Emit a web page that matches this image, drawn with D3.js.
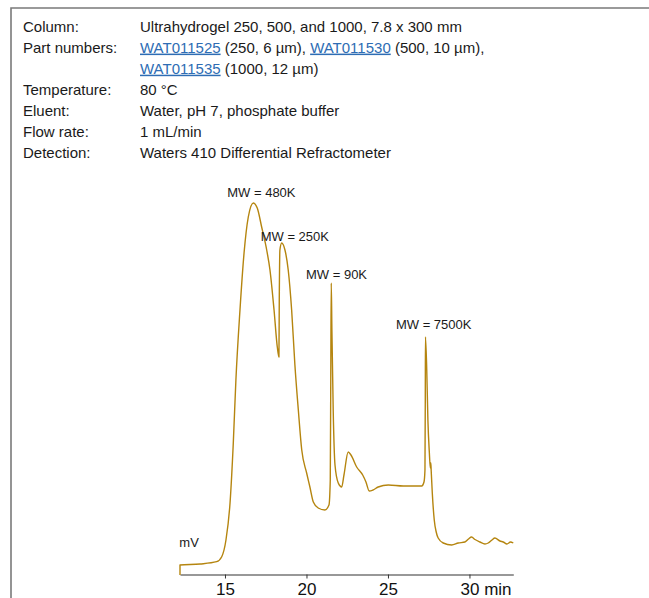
<!DOCTYPE html>
<html>
<head>
<meta charset="utf-8">
<script src="https://cdn.jsdelivr.net/npm/d3@7"></script>
<style>
  html, body { margin: 0; padding: 0; background: #fff; }
  svg { display: block; font-family: "Liberation Sans", Arial, sans-serif; }
</style>
</head>
<body>
<svg id="chart" width="649" height="598"></svg>
<script>
// ---- Data ----
// Retention time (min)
const times = [12.24, 12.24, 13.47, 14.49, 14.80, 15.06, 15.31, 15.51, 15.67, 15.92,
  16.17, 16.43, 16.74, 16.98, 17.25, 17.56, 17.76, 18.01, 18.21, 18.31,
  18.33, 18.37, 18.48, 18.68, 18.88, 19.09, 19.29, 19.50, 19.71, 20.01,
  20.21, 20.42, 20.72, 21.13, 21.38, 21.46, 21.49, 21.52, 21.56, 21.64,
  21.75, 21.95, 22.16, 22.30, 22.56, 22.73, 23.08, 23.45, 23.65, 23.85,
  24.08, 24.40, 25.02, 25.94, 27.07, 27.21, 27.27, 27.29, 27.30, 27.38,
  27.45, 27.54, 27.60, 27.63, 27.65, 27.72, 27.84, 27.96, 28.08, 28.39,
  28.91, 29.31, 29.72, 29.94, 30.13, 30.34, 30.64, 30.95, 31.15, 31.38,
  31.56, 31.87, 32.07, 32.30, 32.52, 32.69];
// Detector signal (mV, arbitrary scale)
const signal = [0, 10, 11, 13.3, 18.3, 35, 72, 132, 195, 265,
  322, 358, 372, 367, 348, 325, 305, 265, 228, 218,
  272, 325, 332, 325, 305, 265, 210, 165, 125, 102,
  88, 73, 67, 65, 70, 95, 195, 292, 245, 165,
  110, 92, 88, 100, 123, 120, 108, 100, 93, 84,
  85, 88, 90, 89, 89, 93, 105, 175, 238, 205,
  155, 122, 107, 112, 105, 82, 55, 43, 37, 32,
  30, 32, 33, 36, 38, 35.5, 33, 31, 32, 35,
  37, 34, 33, 31, 33, 32];

const xTicks = [15, 20, 25, 30];
const xDomain = [12.24, 32.69];
const yDomain = [0, 380];

// Peak annotations (data coordinates)
const annoText = ["MW = 480K", "MW = 250K", "MW = 90K", "MW = 7500K", "mV"];
const annoT = [15.14, 17.19, 19.97, 25.49, 12.20];
const annoV = [378, 334, 296, 246, 28];

// Method conditions
const condLabels = ["Column:", "Part numbers:", "", "Temperature:", "Eluent:", "Flow rate:", "Detection:"];
const condValues = [
  [{t: "Ultrahydrogel 250, 500, and 1000, 7.8 x 300 mm"}],
  [{t: "WAT011525", link: true}, {t: " (250, 6 \u00b5m), "}, {t: "WAT011530", link: true}, {t: " (500, 10 \u00b5m),"}],
  [{t: "WAT011535", link: true}, {t: " (1000, 12 \u00b5m)"}],
  [{t: "80 \u00b0C"}],
  [{t: "Water, pH 7, phosphate buffer"}],
  [{t: "1 mL/min"}],
  [{t: "Waters 410 Differential Refractometer"}]
];

// ---- Drawing ----
const svg = d3.select("#chart");

// frame
svg.append("path")
  .attr("d", "M11,598 L11,8 L649,8")
  .attr("fill", "none")
  .attr("stroke", "#7a7a7a")
  .attr("stroke-width", 1.6);

// conditions block
const cond = svg.append("g").attr("font-size", 15).attr("fill", "#1a1a1a");
condLabels.forEach((lab, i) => {
  const y = 31.5 + i * 21.1;
  if (lab) cond.append("text").attr("x", 23).attr("y", y).text(lab);
  const t = cond.append("text").attr("x", 140).attr("y", y);
  condValues[i].forEach(seg => {
    const ts = t.append("tspan").text(seg.t);
    if (seg.link) ts.attr("fill", "#2e6db4").attr("text-decoration", "underline");
  });
});

// scales
const x = d3.scaleLinear().domain(xDomain).range([180, 513.3]);
const y = d3.scaleLinear().domain(yDomain).range([575, 195]);

// axis
const axis = d3.axisBottom(x)
  .tickValues(xTicks)
  .tickSizeInner(4)
  .tickSizeOuter(0)
  .tickPadding(4);

const gx = svg.append("g")
  .attr("transform", `translate(0,${y(0) - 0.5})`)
  .call(axis);
gx.select(".domain").attr("stroke", "#333").attr("stroke-width", 1.2);
gx.selectAll(".tick line").attr("stroke", "#333");
gx.selectAll(".tick text")
  .attr("font-size", 17)
  .attr("font-family", "Liberation Sans, Arial, sans-serif")
  .attr("fill", "#111");
// last tick gets unit
gx.selectAll(".tick text").filter(d => d === xTicks[xTicks.length - 1]).each(function() {
  const el = d3.select(this);
  const w = this.getComputedTextLength();
  el.attr("text-anchor", "start").attr("x", -w / 2);
  el.append("tspan").text(" min");
});

// trace
const pts = times.map((t, i) => [t, signal[i]]);
const line = d3.line()
  .x(d => x(d[0]))
  .y(d => y(d[1]))
  .curve(d3.curveMonotoneX);

svg.append("path")
  .datum(pts)
  .attr("d", line)
  .attr("fill", "none")
  .attr("stroke", "#b5850f")
  .attr("stroke-width", 1.4)
  .attr("stroke-linejoin", "round");

// annotations
svg.append("g").selectAll("text")
  .data(annoText)
  .join("text")
  .attr("x", (d, i) => x(annoT[i]))
  .attr("y", (d, i) => y(annoV[i]))
  .attr("font-size", 13)
  .attr("fill", "#1a1a1a")
  .text(d => d);
</script>
</body>
</html>
